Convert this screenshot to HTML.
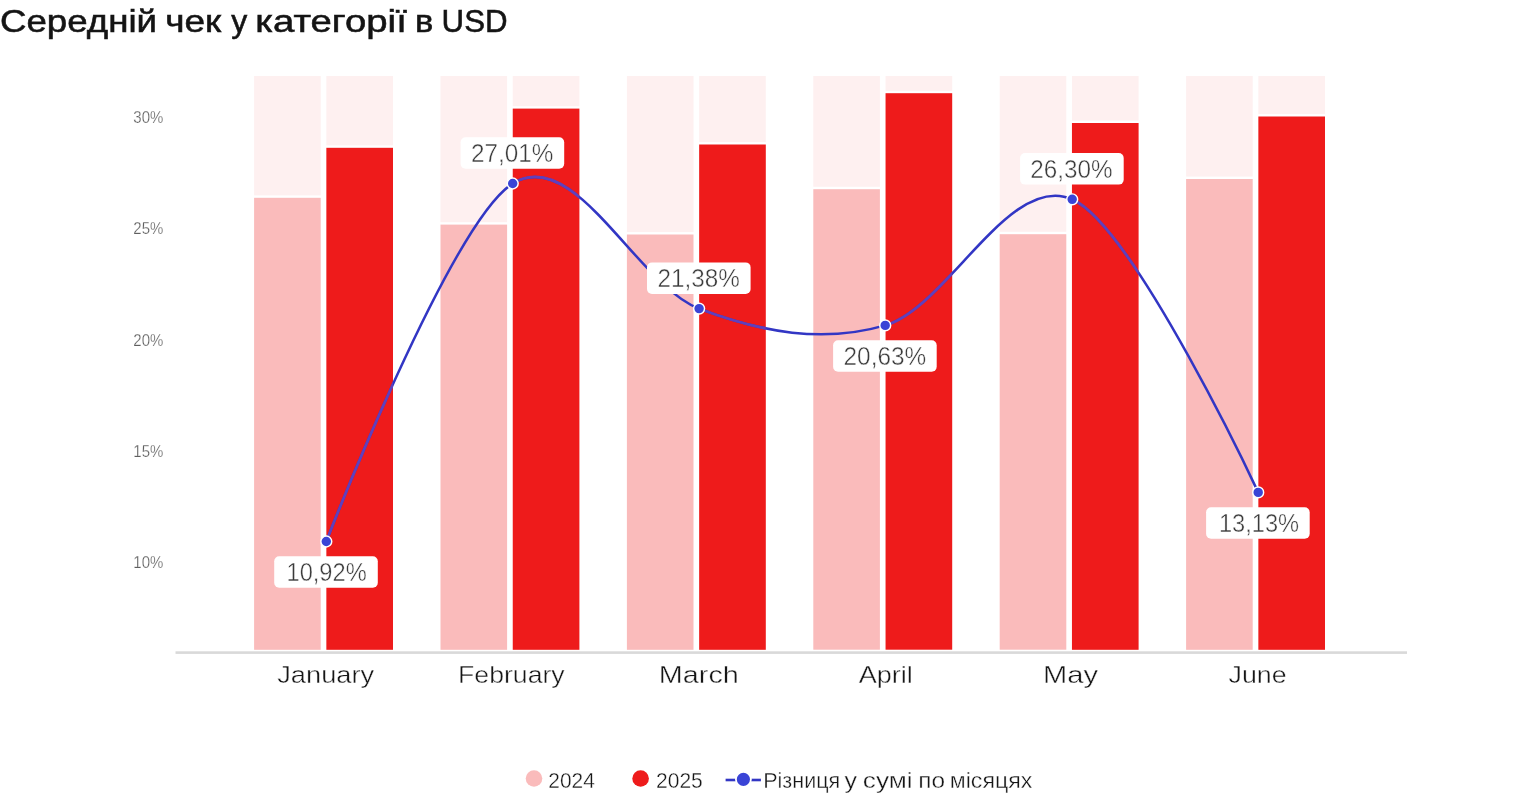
<!DOCTYPE html>
<html lang="uk">
<head>
<meta charset="utf-8">
<title>Середній чек у категорії в USD</title>
<style>
html,body{margin:0;padding:0;background:#fff;}
body{width:1538px;height:800px;overflow:hidden;position:relative;font-family:"Liberation Sans",sans-serif;}
svg{position:absolute;left:0;top:0;display:block;}
text{font-family:"Liberation Sans",sans-serif;}
.title{font-size:31.5px;fill:#141414;stroke:#141414;stroke-width:.55px;}
.ytick{font-size:17.2px;fill:#5f5f5f;stroke:#fff;stroke-width:.25px;}
.month{font-size:24.5px;fill:#161616;stroke:#fff;stroke-width:.4px;}
.dl{font-size:26.3px;fill:#3a3a3a;stroke:#fff;stroke-width:.45px;}
.leg{font-size:22px;fill:#161616;stroke:#fff;stroke-width:.35px;}
</style>
</head>
<body>
<svg width="1538" height="800" viewBox="0 0 1538 800">
<rect width="1538" height="800" fill="#ffffff"/>
<text class="title" y="32.1"><tspan x="0.0" textLength="157.0" lengthAdjust="spacingAndGlyphs">Середній</tspan> <tspan x="165.3" textLength="56.0" lengthAdjust="spacingAndGlyphs">чек</tspan> <tspan x="231.3" textLength="16.0" lengthAdjust="spacingAndGlyphs">у</tspan> <tspan x="255.3" textLength="151.5" lengthAdjust="spacingAndGlyphs">категорії</tspan> <tspan x="415.0" textLength="18.3" lengthAdjust="spacingAndGlyphs">в</tspan> <tspan x="441.6" textLength="66.0" lengthAdjust="spacingAndGlyphs">USD</tspan></text>

<text class="ytick" x="163.3" y="123.0" text-anchor="end" textLength="30" lengthAdjust="spacingAndGlyphs">30%</text>
<text class="ytick" x="163.3" y="234.2" text-anchor="end" textLength="30" lengthAdjust="spacingAndGlyphs">25%</text>
<text class="ytick" x="163.3" y="345.5" text-anchor="end" textLength="30" lengthAdjust="spacingAndGlyphs">20%</text>
<text class="ytick" x="163.3" y="456.8" text-anchor="end" textLength="30" lengthAdjust="spacingAndGlyphs">15%</text>
<text class="ytick" x="163.3" y="568.0" text-anchor="end" textLength="30" lengthAdjust="spacingAndGlyphs">10%</text>
<g>
<rect x="254.10" y="76.0" width="66.60" height="119.4" fill="#fef0f0"/>
<rect x="326.35" y="76.0" width="66.65" height="69.4" fill="#fef0f0"/>
<rect x="254.10" y="197.8" width="66.60" height="452.0" fill="#fabbbb"/>
<rect x="326.35" y="147.8" width="66.65" height="502.0" fill="#ee1b1b"/>
<rect x="440.50" y="76.0" width="66.60" height="146.2" fill="#fef0f0"/>
<rect x="512.75" y="76.0" width="66.65" height="30.2" fill="#fef0f0"/>
<rect x="440.50" y="224.6" width="66.60" height="425.2" fill="#fabbbb"/>
<rect x="512.75" y="108.6" width="66.65" height="541.2" fill="#ee1b1b"/>
<rect x="626.90" y="76.0" width="66.60" height="156.1" fill="#fef0f0"/>
<rect x="699.15" y="76.0" width="66.65" height="66.1" fill="#fef0f0"/>
<rect x="626.90" y="234.5" width="66.60" height="415.3" fill="#fabbbb"/>
<rect x="699.15" y="144.5" width="66.65" height="505.3" fill="#ee1b1b"/>
<rect x="813.30" y="76.0" width="66.60" height="110.8" fill="#fef0f0"/>
<rect x="885.55" y="76.0" width="66.65" height="14.8" fill="#fef0f0"/>
<rect x="813.30" y="189.2" width="66.60" height="460.5" fill="#fabbbb"/>
<rect x="885.55" y="93.2" width="66.65" height="556.5" fill="#ee1b1b"/>
<rect x="999.70" y="76.0" width="66.60" height="155.8" fill="#fef0f0"/>
<rect x="1071.95" y="76.0" width="66.65" height="44.6" fill="#fef0f0"/>
<rect x="999.70" y="234.2" width="66.60" height="415.5" fill="#fabbbb"/>
<rect x="1071.95" y="123.0" width="66.65" height="526.8" fill="#ee1b1b"/>
<rect x="1186.10" y="76.0" width="66.60" height="100.6" fill="#fef0f0"/>
<rect x="1258.35" y="76.0" width="66.65" height="38.1" fill="#fef0f0"/>
<rect x="1186.10" y="179.0" width="66.60" height="470.8" fill="#fabbbb"/>
<rect x="1258.35" y="116.5" width="66.65" height="533.3" fill="#ee1b1b"/>
</g>
<rect x="175.5" y="651.3" width="1231.5" height="2.6" fill="#d9d9d9"/>
<text class="month" x="325.7" y="682.9" text-anchor="middle" textLength="97.0" lengthAdjust="spacingAndGlyphs">January</text>
<text class="month" x="511.4" y="682.9" text-anchor="middle" textLength="106.6" lengthAdjust="spacingAndGlyphs">February</text>
<text class="month" x="698.8" y="682.9" text-anchor="middle" textLength="80.0" lengthAdjust="spacingAndGlyphs">March</text>
<text class="month" x="885.8" y="682.9" text-anchor="middle" textLength="54.2" lengthAdjust="spacingAndGlyphs">April</text>
<text class="month" x="1070.5" y="682.9" text-anchor="middle" textLength="55.0" lengthAdjust="spacingAndGlyphs">May</text>
<text class="month" x="1257.6" y="682.9" text-anchor="middle" textLength="58.0" lengthAdjust="spacingAndGlyphs">June</text>
<clipPath id="redclip"><rect x="326.35" y="147.8" width="66.65" height="502.0"/><rect x="512.75" y="108.6" width="66.65" height="541.2"/><rect x="699.15" y="144.5" width="66.65" height="505.3"/><rect x="885.55" y="93.2" width="66.65" height="556.5"/><rect x="1071.95" y="123.0" width="66.65" height="526.8"/><rect x="1258.35" y="116.5" width="66.65" height="533.3"/></clipPath>
<path d="M326.3 541.5 C326.3 541.5 450.6 222.3 512.7 183.5 C574.8 144.7 637.0 285.0 699.1 308.6 C761.2 332.2 823.0 343.6 885.2 325.4 C947.4 307.2 1010.0 171.5 1072.2 199.3 C1134.4 227.1 1258.2 492.4 1258.2 492.4" fill="none" stroke="#3236c4" stroke-width="2.5" stroke-linecap="round" stroke-linejoin="round"/>
<path d="M326.3 541.5 C326.3 541.5 450.6 222.3 512.7 183.5 C574.8 144.7 637.0 285.0 699.1 308.6 C761.2 332.2 823.0 343.6 885.2 325.4 C947.4 307.2 1010.0 171.5 1072.2 199.3 C1134.4 227.1 1258.2 492.4 1258.2 492.4" fill="none" stroke="#6040bc" stroke-width="2.6" stroke-linecap="round" stroke-linejoin="round" clip-path="url(#redclip)"/>
<circle cx="326.3" cy="541.5" r="5.45" fill="#3a44d6" stroke="#ffffff" stroke-width="1.45"/>
<circle cx="512.7" cy="183.5" r="5.45" fill="#3a44d6" stroke="#ffffff" stroke-width="1.45"/>
<circle cx="699.1" cy="308.6" r="5.45" fill="#3a44d6" stroke="#ffffff" stroke-width="1.45"/>
<circle cx="885.2" cy="325.4" r="5.45" fill="#3a44d6" stroke="#ffffff" stroke-width="1.45"/>
<circle cx="1072.2" cy="199.3" r="5.45" fill="#3a44d6" stroke="#ffffff" stroke-width="1.45"/>
<circle cx="1258.2" cy="492.4" r="5.45" fill="#3a44d6" stroke="#ffffff" stroke-width="1.45"/>
<rect x="274.2" y="556.3" width="103.6" height="31.5" rx="5" ry="5" fill="#ffffff"/>
<text class="dl" x="326.6" y="581.2" text-anchor="middle" textLength="80.2" lengthAdjust="spacingAndGlyphs">10,92%</text>
<rect x="460.6" y="137.3" width="103.6" height="31.5" rx="5" ry="5" fill="#ffffff"/>
<text class="dl" x="512.2" y="162.2" text-anchor="middle" textLength="82.5" lengthAdjust="spacingAndGlyphs">27,01%</text>
<rect x="647.0" y="262.4" width="103.6" height="31.5" rx="5" ry="5" fill="#ffffff"/>
<text class="dl" x="698.6" y="287.3" text-anchor="middle" textLength="82.3" lengthAdjust="spacingAndGlyphs">21,38%</text>
<rect x="833.1" y="340.2" width="103.6" height="31.5" rx="5" ry="5" fill="#ffffff"/>
<text class="dl" x="884.9" y="365.1" text-anchor="middle" textLength="82.7" lengthAdjust="spacingAndGlyphs">20,63%</text>
<rect x="1020.1" y="153.1" width="103.6" height="31.5" rx="5" ry="5" fill="#ffffff"/>
<text class="dl" x="1071.4" y="178.0" text-anchor="middle" textLength="82.3" lengthAdjust="spacingAndGlyphs">26,30%</text>
<rect x="1206.1" y="507.2" width="103.6" height="31.5" rx="5" ry="5" fill="#ffffff"/>
<text class="dl" x="1259.0" y="532.1" text-anchor="middle" textLength="80.2" lengthAdjust="spacingAndGlyphs">13,13%</text>
<circle cx="534" cy="778.5" r="8.3" fill="#fabbbb"/>
<text class="leg" x="548.3" y="787.5" textLength="46.5" lengthAdjust="spacingAndGlyphs">2024</text>
<circle cx="640.6" cy="778.5" r="8.3" fill="#ee1b1b"/>
<text class="leg" x="656" y="787.5" textLength="46.8" lengthAdjust="spacingAndGlyphs">2025</text>
<rect x="725.6" y="778.7" width="35.3" height="2.6" fill="#3236c4"/>
<circle cx="743.4" cy="779.3" r="7.5" fill="#3a44d6" stroke="#ffffff" stroke-width="1.8"/>
<text class="leg" y="787.5"><tspan x="763.2" textLength="77.0" lengthAdjust="spacingAndGlyphs">Різниця</tspan> <tspan x="844.4" textLength="12.5" lengthAdjust="spacingAndGlyphs">у</tspan> <tspan x="862.8" textLength="49.8" lengthAdjust="spacingAndGlyphs">сумі</tspan> <tspan x="918.2" textLength="26.8" lengthAdjust="spacingAndGlyphs">по</tspan> <tspan x="949.8" textLength="82.6" lengthAdjust="spacingAndGlyphs">місяцях</tspan></text>
</svg>
</body>
</html>
